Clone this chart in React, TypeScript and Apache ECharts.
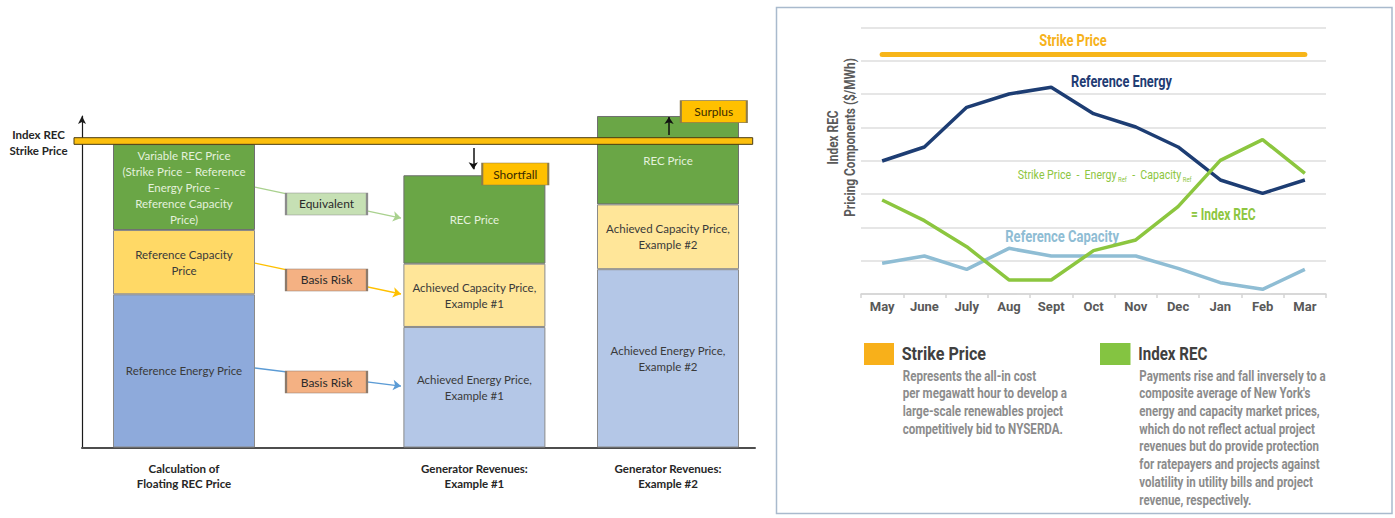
import React, { useEffect, useRef } from "react";
import * as echarts from "echarts";

// ---------- Left diagram data ----------
const COLUMNS = [
  "Calculation of\nFloating REC Price",
  "Generator Revenues:\nExample #1",
  "Generator Revenues:\nExample #2",
];
const COLUMN_SLOTS = [0, 3, 5];
const SLOT_COUNT = 6;
const ENERGY = [30.5, 24.0, 35.5];
const CAPACITY = [12.8, 12.6, 12.9];
const REC = [17.1, 17.6, 17.6];
const ENERGY_LABELS = [
  "Reference Energy Price",
  "Achieved Energy Price,\nExample #1",
  "Achieved Energy Price,\nExample #2",
];
const CAPACITY_LABELS = [
  "Reference Capacity\nPrice",
  "Achieved Capacity Price,\nExample #1",
  "Achieved Capacity Price,\nExample #2",
];
const REC_LABELS = [
  "Variable REC Price\n(Strike Price – Reference\nEnergy Price –\nReference Capacity\nPrice)",
  "REC Price",
  "REC Price",
];
const STRIKE_BAND = [60.36, 61.68];
const DIAGRAM_MAX = 66;

// ---------- Right chart data ----------
const MONTHS = ["May", "June", "July", "Aug", "Sept", "Oct", "Nov", "Dec", "Jan", "Feb", "Mar"];
const REF_ENERGY = [3.99, 4.41, 5.6, 6.0, 6.2, 5.41, 5.01, 4.41, 3.42, 3.02, 3.42];
const INDEX_REC = [2.82, 2.2, 1.42, 0.42, 0.42, 1.3, 1.62, 2.62, 4.01, 4.63, 3.62];
const REF_CAPACITY = [0.92, 1.14, 0.74, 1.37, 1.14, 1.14, 1.14, 0.77, 0.34, 0.14, 0.74];
const STRIKE_PRICE = 7.19;
const Y_MAX = 8;
const Y_INTERVAL = 1;

const LATO = "Lato, 'Open Sans', sans-serif";
const NARROW = "Roboto, 'Liberation Sans', sans-serif";

const REC_COLORS = ["#6aa646", "#6aa646", "#6aa646"];
const CAP_COLORS = ["#ffd966", "#ffe699", "#ffe699"];
const EN_COLORS = ["#8eaadb", "#b4c7e7", "#b4c7e7"];

function slotData(vals: number[], labels: string[], colors: string[]) {
  return Array.from({ length: SLOT_COUNT }, (_, s) => {
    const c = COLUMN_SLOTS.indexOf(s);
    if (c < 0) return "-";
    return {
      value: vals[c],
      itemStyle: { color: colors[c] },
      label: { formatter: labels[c] },
    };
  });
}

let measureCtx: CanvasRenderingContext2D | null = null;
function measure(text: string, size: number, weight: string) {
  if (!measureCtx) measureCtx = document.createElement("canvas").getContext("2d");
  if (!measureCtx) return 1;
  measureCtx.font = `${weight} ${size}px ${NARROW}`;
  return Math.max(...text.split("\n").map((l) => measureCtx!.measureText(l).width));
}

// narrow text: scale horizontally so that the widest line spans `width`
function narrowText(
  text: string,
  x: number,
  y: number,
  width: number,
  size: number,
  weight: string,
  fill: string,
  align: string,
  vAlign: string,
  extra: any = {}
) {
  const w = measure(text, size, weight);
  return {
    type: "text",
    x,
    y,
    scaleX: width / w,
    ...extra,
    style: {
      text,
      align,
      verticalAlign: vAlign,
      textAlign: align,
      textVerticalAlign: vAlign,
      fill,
      fontFamily: NARROW,
      fontWeight: weight,
      fontSize: size,
    },
  };
}

export default function App() {
  const ref = useRef<HTMLDivElement>(null);

  useEffect(() => {
    document.body.style.margin = "0";
    if (!ref.current) return;
    const chart = echarts.init(ref.current, null, { renderer: "svg" });

    const slotNames = Array.from({ length: SLOT_COUNT }, (_, s) => {
      const c = COLUMN_SLOTS.indexOf(s);
      return c < 0 ? "" : COLUMNS[c];
    });

    const barLabelBase = {
      show: true,
      position: "inside",
      fontFamily: LATO,
      fontSize: 11.5,
      lineHeight: 16,
    };

    const boxLabel = (color: string) => ({
      show: true,
      position: "inside",
      formatter: "{b}",
      color,
      fontFamily: LATO,
      fontSize: 12,
    });

    // formula label width
    const fA = 12.5;
    const fS = 7;
    const formulaW =
      measure("Strike Price  -  Energy", fA, "normal") +
      measure("  -  Capacity", fA, "normal") +
      2 * measure(" Ref", fS, "normal");
    const formulaScale = 174 / formulaW;

    const yTitle = narrowText(
      "Index REC\nPricing Components ($/MWh)",
      841.5,
      137.5,
      158.7,
      14,
      "bold",
      "#5a5a5a",
      "center",
      "middle",
      { rotation: Math.PI / 2 }
    );
    (yTitle.style as any).lineHeight = 17.3;

    const strikeDesc = narrowText(
      "Represents the all-in cost\nper megawatt hour to develop a\nlarge-scale renewables project\ncompetitively bid to NYSERDA.",
      902.7,
      366.9,
      164.6,
      14,
      "bold",
      "#8c8c8c",
      "left",
      "top"
    );
    (strikeDesc.style as any).lineHeight = 17.7;

    const recDesc = narrowText(
      "Payments rise and fall inversely to a\ncomposite average of New York's\nenergy and capacity market prices,\nwhich do not reflect actual project\nrevenues but do provide protection\nfor ratepayers and projects against\nvolatility in utility bills and project\nrevenue, respectively.",
      1139.3,
      366.9,
      186.7,
      14,
      "bold",
      "#8c8c8c",
      "left",
      "top"
    );
    (recDesc.style as any).lineHeight = 17.7;

    const barSeries = (name: string, vals: number[], labels: string[], colors: string[], labelColor: string, border: string) => ({
      name,
      type: "bar",
      stack: "col",
      xAxisIndex: 1,
      yAxisIndex: 1,
      barWidth: 142,
      clip: false,
      z: 2,
      itemStyle: { borderColor: border, borderWidth: 1 },
      label: { ...barLabelBase, color: labelColor },
      data: slotData(vals, labels, colors),
    });

    const option: any = {
      animation: false,
      grid: [
        { left: 82, top: 116, width: 673, height: 331.5 },
        { left: 135.6, top: 116, width: 580.8, height: 331.5 },
        { left: 861, top: 27.3, width: 465, height: 266.7 },
        { left: 74, top: 116, width: 678.7, height: 331.5 },
      ],
      xAxis: [
        {
          gridIndex: 0,
          type: "value",
          min: 0,
          max: 100,
          axisLine: { show: true, lineStyle: { color: "#4d4d4d", width: 2 } },
          axisTick: { show: false },
          axisLabel: { show: false },
          splitLine: { show: false },
        },
        {
          gridIndex: 1,
          type: "category",
          data: slotNames,
          axisLine: { show: false },
          axisTick: { show: false },
          axisLabel: {
            interval: 0,
            margin: 13,
            fontFamily: LATO,
            fontWeight: "bold",
            fontSize: 11.5,
            lineHeight: 15,
            color: "#262626",
          },
        },
        {
          gridIndex: 2,
          type: "category",
          data: MONTHS,
          axisLine: { show: true, lineStyle: { color: "#d4d4d4", width: 1.5 } },
          axisTick: { show: true, length: 4, lineStyle: { color: "#d4d4d4", width: 1.5 } },
          axisLabel: {
            margin: 6,
            fontFamily: NARROW,
            fontWeight: "bold",
            fontSize: 13,
            color: "#595959",
          },
        },
        {
          gridIndex: 3,
          type: "value",
          min: 0,
          max: 1,
          show: false,
        },
      ],
      yAxis: [
        {
          gridIndex: 0,
          type: "value",
          min: 0,
          max: DIAGRAM_MAX,
          axisLine: {
            show: true,
            symbol: ["none", "arrow"],
            symbolSize: [6, 8],
            lineStyle: { color: "#1a1a1a", width: 1.2 },
          },
          axisTick: { show: false },
          axisLabel: { show: false },
          splitLine: { show: false },
        },
        { gridIndex: 1, type: "value", min: 0, max: DIAGRAM_MAX, show: false },
        {
          gridIndex: 2,
          type: "value",
          min: 0,
          max: Y_MAX,
          interval: Y_INTERVAL,
          axisLine: { show: false },
          axisTick: { show: false },
          axisLabel: { show: false },
          splitLine: { show: true, lineStyle: { color: "#dedede", width: 1.5 } },
        },
        { gridIndex: 3, type: "value", min: 0, max: DIAGRAM_MAX, show: false },
      ],
      series: [
        barSeries("Energy", ENERGY, ENERGY_LABELS, EN_COLORS, "#3a3a3a", "#8a8a8a"),
        barSeries("Capacity", CAPACITY, CAPACITY_LABELS, CAP_COLORS, "#3a3a3a", "#8a8a8a"),
        barSeries("REC", REC, REC_LABELS, REC_COLORS, "#e4f1dc", "#6f6f6f"),
        {
          name: "connectors",
          type: "line",
          xAxisIndex: 0,
          yAxisIndex: 0,
          data: [],
          z: 3,
          markLine: {
            z: 3,
            silent: true,
            symbol: ["none", "arrow"],
            symbolSize: 8,
            label: { show: false },
            data: [
              [
                { coord: [25.7, 51.86], lineStyle: { color: "#a9d18e", width: 1.3, type: "solid" } },
                { coord: [47.4, 45.69], lineStyle: { color: "#a9d18e", width: 1.3, type: "solid" } },
              ],
              [
                { coord: [25.7, 36.73], lineStyle: { color: "#ffc000", width: 1.3, type: "solid" } },
                { coord: [47.4, 30.56], lineStyle: { color: "#ffc000", width: 1.3, type: "solid" } },
              ],
              [
                { coord: [25.7, 15.83], lineStyle: { color: "#5b9bd5", width: 1.3, type: "solid" } },
                { coord: [47.4, 12.24], lineStyle: { color: "#5b9bd5", width: 1.3, type: "solid" } },
              ],
            ],
          },
        },
        {
          name: "boxes",
          type: "line",
          xAxisIndex: 0,
          yAxisIndex: 0,
          data: [],
          z: 5,
          markPoint: {
            z: 6,
            silent: true,
            symbol: "rect",
            data: [
              {
                name: "Equivalent",
                coord: [36.33, 48.48],
                symbolSize: [81, 22],
                itemStyle: { color: "#c6e0b4", borderColor: "#8c8c8c", borderWidth: 1.2 },
                label: boxLabel("#2b2b2b"),
              },
              {
                name: "Basis Risk",
                coord: [36.33, 33.35],
                symbolSize: [81, 22],
                itemStyle: { color: "#f4b183", borderColor: "#8c7a6b", borderWidth: 1.2 },
                label: boxLabel("#2b2b2b"),
              },
              {
                name: "Basis Risk",
                coord: [36.33, 13.04],
                symbolSize: [81, 22],
                itemStyle: { color: "#f4b183", borderColor: "#8c7a6b", borderWidth: 1.2 },
                label: boxLabel("#2b2b2b"),
              },
              {
                name: "Shortfall",
                coord: [64.38, 54.45],
                symbolSize: [66, 22],
                itemStyle: { color: "#ffc000", borderColor: "#8c7a4b", borderWidth: 1.2 },
                label: boxLabel("#3a2a00"),
              },
              {
                name: "Surplus",
                coord: [93.88, 66],
                symbolOffset: [0, -4.3],
                symbolSize: [66, 22],
                itemStyle: { color: "#ffc000", borderColor: "#8c7a4b", borderWidth: 1.2 },
                label: boxLabel("#3a2a00"),
              },
            ],
          },
        },
        {
          name: "arrows",
          type: "line",
          xAxisIndex: 0,
          yAxisIndex: 0,
          data: [],
          z: 7,
          markLine: {
            z: 7,
            silent: true,
            symbol: ["none", "arrow"],
            symbolSize: 7,
            label: { show: false },
            lineStyle: { color: "#111111", width: 1.5, type: "solid" },
            data: [
              [{ coord: [58.14, 59.63] }, { coord: [58.14, 55.4] }],
              [{ coord: [87.22, 62.2] }, { coord: [87.22, 65.8] }],
            ],
          },
        },
        {
          name: "strike band",
          type: "line",
          xAxisIndex: 3,
          yAxisIndex: 3,
          data: [],
          z: 8,
          markArea: {
            z: 8,
            silent: true,
            itemStyle: { color: "#fcbf0d", borderColor: "#4a3c12", borderWidth: 1 },
            data: [[{ xAxis: 0, yAxis: STRIKE_BAND[0] }, { xAxis: 1, yAxis: STRIKE_BAND[1] }]],
          },
        },
        {
          name: "Reference Capacity",
          type: "line",
          xAxisIndex: 2,
          yAxisIndex: 2,
          symbol: "none",
          data: REF_CAPACITY,
          lineStyle: { color: "#8fbdd4", width: 3.5 },
          z: 3,
        },
        {
          name: "Reference Energy",
          type: "line",
          xAxisIndex: 2,
          yAxisIndex: 2,
          symbol: "none",
          data: REF_ENERGY,
          lineStyle: { color: "#1d3d73", width: 3.5 },
          z: 3,
          markLine: {
            silent: true,
            symbol: ["none", "none"],
            label: { show: false },
            lineStyle: { color: "#f7b519", width: 5, type: "solid", cap: "round" },
            data: [[{ coord: [MONTHS[0], STRIKE_PRICE] }, { coord: [MONTHS[MONTHS.length - 1], STRIKE_PRICE] }]],
          },
        },
        {
          name: "Index REC",
          type: "line",
          xAxisIndex: 2,
          yAxisIndex: 2,
          symbol: "none",
          data: INDEX_REC,
          lineStyle: { color: "#8cc63f", width: 3.5 },
          z: 4,
        },
      ],
      graphic: [
        {
          type: "text",
          x: 38.5,
          y: 142.5,
          style: {
            text: "Index REC\nStrike Price",
            align: "center",
            verticalAlign: "middle",
            textAlign: "center",
            textVerticalAlign: "middle",
            fill: "#262626",
            fontFamily: LATO,
            fontWeight: "bold",
            fontSize: 11.5,
            lineHeight: 16.5,
          },
        },
        {
          type: "rect",
          shape: { x: 776.5, y: 7.5, width: 615.5, height: 506 },
          style: { fill: "none", stroke: "#a9bacd", lineWidth: 1.5 },
          z: 0,
        },
        yTitle,
        narrowText("Strike Price", 1073, 40.7, 67.4, 17, "bold", "#f6b21b", "center", "middle"),
        narrowText("Reference Energy", 1071, 81.7, 101, 16.5, "bold", "#1f3c73", "left", "middle"),
        {
          type: "text",
          x: 1017.7,
          y: 175,
          scaleX: formulaScale,
          style: {
            text: "{a|Strike Price  -  Energy}{s| Ref}{a|  -  Capacity}{s| Ref}",
            align: "left",
            verticalAlign: "middle",
            textAlign: "left",
            textVerticalAlign: "middle",
            rich: {
              a: { fill: "#8dc641", fontFamily: NARROW, fontSize: fA, lineHeight: 16 },
              s: { fill: "#8dc641", fontFamily: NARROW, fontSize: fS, lineHeight: 9, verticalAlign: "bottom" },
            },
          },
        },
        narrowText("= Index REC", 1191, 215, 64.7, 16.5, "bold", "#8dc641", "left", "middle"),
        narrowText("Reference Capacity", 1005.3, 236, 113.7, 16.5, "bold", "#8fbdd4", "left", "middle"),
        {
          type: "rect",
          shape: { x: 864, y: 343, width: 30, height: 22 },
          style: { fill: "#f8b01a" },
        },
        {
          type: "rect",
          shape: { x: 1100, y: 343, width: 30.5, height: 22 },
          style: { fill: "#84c441" },
        },
        narrowText("Strike Price", 901.7, 354, 84.3, 19, "bold", "#404040", "left", "middle"),
        narrowText("Index REC", 1138.3, 353.5, 69, 19, "bold", "#404040", "left", "middle"),
        strikeDesc,
        recDesc,
      ],
    };

    chart.setOption(option);
    return () => chart.dispose();
  }, []);

  return <div ref={ref} style={{ width: 1395, height: 518 }} />;
}
